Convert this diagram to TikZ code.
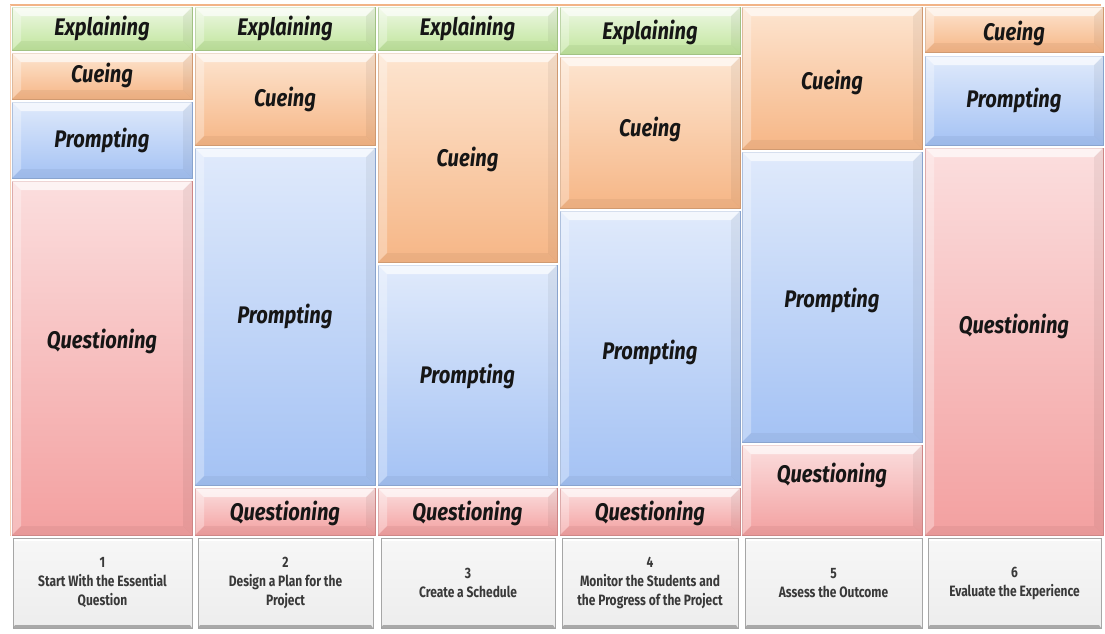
\documentclass[tikz,border=0pt]{standalone}
\usepackage{fontspec}
\newfontfamily\cellfont[FakeStretch=0.84]{Fira Sans}
\newfontfamily\stagefont[FakeStretch=0.80]{Fira Sans}
\usetikzlibrary{calc}

\definecolor{grnL}{HTML}{EEF8E4}\definecolor{grnD}{HTML}{C0E59C}
\definecolor{orgL}{HTML}{FDE5D0}\definecolor{orgD}{HTML}{F6B686}
\definecolor{bluL}{HTML}{E0EAFB}\definecolor{bluD}{HTML}{A4C2F4}
\definecolor{redL}{HTML}{FBDEDE}\definecolor{redD}{HTML}{F3A0A0}
\definecolor{gryL}{HTML}{F7F7F7}\definecolor{gryD}{HTML}{EDEDED}
\definecolor{frame}{HTML}{F2B487}
\definecolor{ink}{HTML}{161616}

\newcommand\bv{9pt}

% bevel bands on the four sides of a cell
\newcommand\bevel[2]{%
  \fill[white,opacity=.65] (#1.north west) -- (#1.north east)
     -- ([shift={(-\bv,-\bv)}]#1.north east) -- ([shift={(\bv,-\bv)}]#1.north west) -- cycle;
  \fill[white,opacity=.3] (#1.north west) -- ([shift={(\bv,-\bv)}]#1.north west)
     -- ([shift={(\bv,\bv)}]#1.south west) -- (#1.south west) -- cycle;
  \fill[black,opacity=.05] (#1.north east) -- ([shift={(-\bv,-\bv)}]#1.north east)
     -- ([shift={(-\bv,\bv)}]#1.south east) -- (#1.south east) -- cycle;
  \fill[#2!80!black,opacity=.22] (#1.south west) -- ([shift={(\bv,\bv)}]#1.south west)
     -- ([shift={(-\bv,\bv)}]#1.south east) -- (#1.south east) -- cycle;
}

% \bcell{name}{light}{dark}{x1}{y1}{x2}{y2}{text}{text shift}
\newcommand\bcell[9]{%
  \node[cellbox, top color=#2, bottom color=#3, draw=#3!85!black,
        minimum width={#6pt-#4pt}, minimum height={#7pt-#5pt}]
        (#1) at ({(#4+#6)/2},{(#5+#7)/2}) {};
  \bevel{#1}{#3}
  \node[celltext] (#1t) at ([yshift=#9]#1.center) {#8};
}

% \stage{name}{x1}{x2}{text}
\newcommand\stage[4]{%
  \node[stagebox, minimum width={#3pt-#2pt}, minimum height=90pt]
        (#1) at ({(#2+#3)/2},583) {};
  \fill[black!40,opacity=.8] (#1.south west) -- ([shift={(2pt,3pt)}]#1.south west)
     -- ([shift={(-2pt,3pt)}]#1.south east) -- (#1.south east) -- cycle;
  \fill[white] ([shift={(1pt,-1pt)}]#1.north west) rectangle ([shift={(-1pt,-3pt)}]#1.north east);
  \node[stagetext] (#1t) at (#1.center) {#4};
}

\begin{document}
\begin{tikzpicture}[x=1pt,y=-1pt,
  cellbox/.style={rectangle, inner sep=0pt, outer sep=0pt, line width=0.4pt},
  celltext/.style={text=ink, font=\cellfont\bfseries\itshape\fontsize{24}{26}\selectfont},
  stagebox/.style={rectangle, inner sep=0pt, outer sep=0pt, top color=gryL, bottom color=gryD,
        draw=black!35, line width=0.5pt},
  stagetext/.style={text=ink!85, align=center, font=\stagefont\bfseries\fontsize{15}{19}\selectfont}]
\useasboundingbox (0,0) rectangle (1105,633);
\fill[white] (0,0) rectangle (1105,633);

% outer frame of the chart
\draw[frame, line width=2pt] (10,5) -- (1101,5);
\draw[frame!60, line width=0.8pt] (10,5) -- (10,536);

% column 1
\bcell{e1}{grnL}{grnD}{12}{7}{192}{50}{Explaining}{0pt}
\bcell{c1}{orgL}{orgD}{12}{53}{192}{99}{Cueing}{1pt}
\bcell{p1}{bluL}{bluD}{12}{102}{192}{178}{Prompting}{0pt}
\bcell{q1}{redL}{redD}{12}{181}{192}{535}{Questioning}{17pt}
% column 2
\bcell{e2}{grnL}{grnD}{195}{7}{375}{50}{Explaining}{0pt}
\bcell{c2}{orgL}{orgD}{195}{53}{375}{145}{Cueing}{0pt}
\bcell{p2}{bluL}{bluD}{195}{148}{375}{485}{Prompting}{0pt}
\bcell{q2}{redL}{redD}{195}{488}{375}{535}{Questioning}{-2pt}
% column 3
\bcell{e3}{grnL}{grnD}{378}{7}{557}{50}{Explaining}{0pt}
\bcell{c3}{orgL}{orgD}{378}{53}{557}{262}{Cueing}{-2pt}
\bcell{p3}{bluL}{bluD}{378}{265}{557}{485}{Prompting}{-1pt}
\bcell{q3}{redL}{redD}{378}{488}{557}{535}{Questioning}{-2pt}
% column 4
\bcell{e4}{grnL}{grnD}{560}{7}{740}{54}{Explaining}{-2pt}
\bcell{c4}{orgL}{orgD}{560}{57}{740}{208}{Cueing}{3pt}
\bcell{p4}{bluL}{bluD}{560}{211}{740}{485}{Prompting}{-4pt}
\bcell{q4}{redL}{redD}{560}{488}{740}{535}{Questioning}{-2pt}
% column 5
\bcell{c5}{orgL}{orgD}{742}{7}{922}{149}{Cueing}{-4pt}
\bcell{p5}{bluL}{bluD}{742}{152}{922}{442}{Prompting}{-3pt}
\bcell{q5}{redL}{redD}{742}{445}{922}{535}{Questioning}{15pt}
% column 6
\bcell{c6}{orgL}{orgD}{925}{7}{1103}{52}{Cueing}{-4pt}
\bcell{p6}{bluL}{bluD}{925}{56}{1103}{145}{Prompting}{0pt}
\bcell{q6}{redL}{redD}{925}{148}{1103}{535}{Questioning}{15pt}

% project stages
\stage{s1}{13}{192}{1\\Start With the Essential\\Question}
\stage{s2}{198}{373}{2\\Design a Plan for the\\Project}
\stage{s3}{381}{555}{3\\Create a Schedule}
\stage{s4}{562}{738}{4\\Monitor the Students and\\the Progress of the Project}
\stage{s5}{745}{922}{5\\Assess the Outcome}
\stage{s6}{928}{1101}{6\\Evaluate the Experience}
\end{tikzpicture}
\end{document}
